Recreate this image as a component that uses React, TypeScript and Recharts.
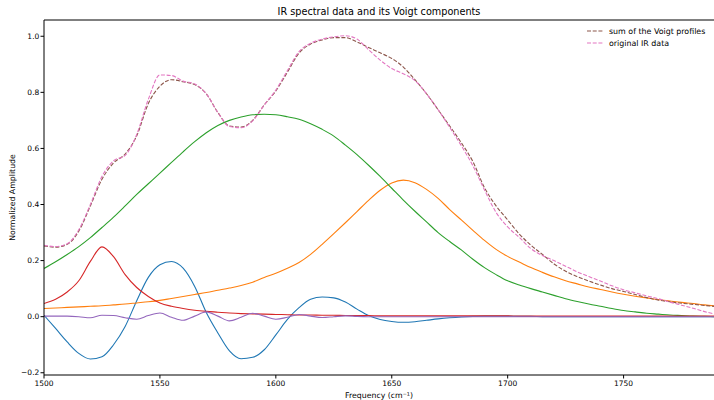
import { LineChart, Line, XAxis, YAxis, ReferenceLine } from 'recharts'

// wavenumber grid (cm^-1)
const freq = [
  1500, 1505, 1510, 1515, 1520, 1525, 1530, 1535, 1540, 1545, 1550, 1555, 1560, 1565, 1570,
  1575, 1580, 1585, 1590, 1595, 1600, 1605, 1610, 1615, 1620, 1625, 1630, 1635, 1640, 1645,
  1650, 1655, 1660, 1665, 1670, 1675, 1680, 1685, 1690, 1695, 1700, 1705, 1710, 1715, 1720,
  1725, 1730, 1735, 1740, 1745, 1750, 1755, 1760, 1765, 1770, 1775, 1780, 1785, 1790,
]

// Voigt components
const comp1 = [
  0.005, -0.042, -0.09, -0.131, -0.151, -0.143, -0.1, -0.035, 0.057, 0.14, 0.185, 0.197, 0.173, 0.108, 0.015,
  -0.058, -0.122, -0.15, -0.145, -0.118, -0.065, -0.01, 0.032, 0.062, 0.07, 0.067, 0.052, 0.027, 0.004, -0.01,
  -0.017, -0.02, -0.018, -0.013, -0.008, -0.004, -0.001, 0.001, 0.002, 0.002, 0.002, 0.001, 0.001, 0, 0,
  0, 0, 0, 0, 0, 0, 0, 0, 0, 0, 0, 0, 0, 0,
]
const comp2 = [
  0.029, 0.031, 0.033, 0.035, 0.037, 0.039, 0.042, 0.045, 0.049, 0.053, 0.058, 0.065, 0.072, 0.079, 0.086,
  0.094, 0.102, 0.111, 0.123, 0.14, 0.155, 0.173, 0.193, 0.222, 0.258, 0.296, 0.335, 0.375, 0.415, 0.451,
  0.477, 0.487, 0.478, 0.454, 0.422, 0.382, 0.345, 0.308, 0.272, 0.24, 0.215, 0.195, 0.175, 0.158, 0.142,
  0.128, 0.117, 0.106, 0.097, 0.088, 0.08, 0.073, 0.067, 0.061, 0.056, 0.051, 0.047, 0.042, 0.038,
]
const comp3 = [
  0.172, 0.196, 0.222, 0.25, 0.282, 0.318, 0.355, 0.395, 0.436, 0.474, 0.512, 0.55, 0.588, 0.624, 0.656,
  0.682, 0.7, 0.712, 0.72, 0.722, 0.72, 0.713, 0.704, 0.688, 0.668, 0.644, 0.612, 0.578, 0.54, 0.5,
  0.458, 0.416, 0.376, 0.338, 0.3, 0.268, 0.238, 0.205, 0.175, 0.15, 0.128, 0.113, 0.1, 0.088, 0.076,
  0.064, 0.054, 0.045, 0.037, 0.029, 0.022, 0.017, 0.012, 0.009, 0.006, 0.004, 0.002, 0.001, 0,
]
const comp4 = [
  0.047, 0.062, 0.088, 0.128, 0.197, 0.249, 0.214, 0.15, 0.104, 0.072, 0.049, 0.037, 0.029, 0.023, 0.019,
  0.016, 0.013, 0.011, 0.01, 0.009, 0.008, 0.007, 0.006, 0.006, 0.005, 0.005, 0.004, 0.004, 0.004, 0.003,
  0.003, 0.003, 0.003, 0.003, 0.003, 0.003, 0.003, 0.003, 0.003, 0.003, 0.003, 0.002, 0.002, 0.002, 0.002,
  0.002, 0.002, 0.002, 0.002, 0.002, 0.002, 0.002, 0.002, 0.002, 0.002, 0.002, 0.002, 0.002, 0.002,
]
const comp5 = [
  0.002, 0.002, 0.002, 0, -0.004, 0.005, 0.004, -0.004, -0.009, 0.004, 0.013, -0.002, -0.013, 0.002, 0.017,
  0.002, -0.015, -0.002, 0.012, 0.002, -0.009, -0.002, 0.008, 0.002, -0.003, 0, 0.003, 0.001, 0, 0,
  0, 0, 0, 0, 0, 0, 0, 0, 0, 0, 0, 0, 0, 0, 0,
  0, 0, 0, 0, 0, 0, 0, 0, 0, 0, 0, 0, 0, 0,
]

// sum of the fitted profiles and the measured spectrum
const voigtSum = [
  0.252, 0.248, 0.258, 0.305, 0.395, 0.49, 0.548, 0.58, 0.645, 0.76, 0.822, 0.845, 0.838, 0.828, 0.795,
  0.728, 0.68, 0.676, 0.7, 0.755, 0.805, 0.872, 0.94, 0.972, 0.987, 0.995, 0.995, 0.98, 0.96, 0.941,
  0.921, 0.89, 0.845, 0.795, 0.738, 0.68, 0.62, 0.553, 0.46, 0.395, 0.345, 0.295, 0.255, 0.222, 0.188,
  0.162, 0.143, 0.127, 0.113, 0.1, 0.09, 0.079, 0.068, 0.059, 0.053, 0.048, 0.044, 0.04, 0.036,
]
const irData = [
  0.255, 0.25, 0.26, 0.31, 0.4, 0.5, 0.556, 0.575, 0.65, 0.775, 0.862, 0.86, 0.84, 0.83, 0.795,
  0.728, 0.678, 0.674, 0.698, 0.755, 0.808, 0.878, 0.945, 0.975, 0.99, 0.998, 1.002, 0.99, 0.952, 0.915,
  0.885, 0.866, 0.842, 0.795, 0.738, 0.675, 0.61, 0.538, 0.452, 0.372, 0.32, 0.283, 0.243, 0.218, 0.2,
  0.18, 0.16, 0.143, 0.127, 0.11, 0.096, 0.085, 0.074, 0.064, 0.052, 0.041, 0.03, 0.018, 0.008,
]

const xTicks = [1500, 1550, 1600, 1650, 1700, 1750]
const yTicks = [-0.2, 0, 0.2, 0.4, 0.6, 0.8, 1.0]

const data = freq.map((f, i) => ({
  f,
  c1: comp1[i],
  c2: comp2[i],
  c3: comp3[i],
  c4: comp4[i],
  c5: comp5[i],
  sum: voigtSum[i],
  ir: irData[i],
}))

const font = '"DejaVu Sans", sans-serif'
const yMin = -0.208
const yMax = 1.058

const components = [
  { key: 'c1', color: '#1f77b4' },
  { key: 'c2', color: '#ff7f0e' },
  { key: 'c3', color: '#2ca02c' },
  { key: 'c4', color: '#d62728' },
  { key: 'c5', color: '#9467bd' },
]

const legendItems = [
  { label: 'sum of the Voigt profiles', color: '#8c564b' },
  { label: 'original IR data', color: '#e377c2' },
]

const fmtY = (v: number) => (v < 0 ? '\u2212' + Math.abs(v).toFixed(1) : v.toFixed(1))

export default function App() {
  return (
    <div style={{ position: 'absolute', left: 0, top: 0, width: 714, height: 400, background: '#fff' }}>
      <div
        style={{
          position: 'absolute',
          left: 44,
          width: 670,
          top: 6,
          textAlign: 'center',
          fontFamily: font,
          fontSize: 9.7,
          lineHeight: '12px',
          color: '#000',
        }}
      >
        IR spectral data and its Voigt components
      </div>
      <LineChart width={714} height={400} data={data} margin={{ top: 20, right: 0, left: 0, bottom: 0 }}>
        <XAxis
          dataKey="f"
          type="number"
          domain={[1500, 1789]}
          allowDataOverflow
          ticks={xTicks}
          height={25}
          tickSize={3.5}
          tickMargin={2.5}
          stroke="#000"
          tick={{ fontSize: 7.5, fill: '#000', fontFamily: font }}
          label={{
            value: 'Frequency (cm\u207b\u00b9)',
            position: 'insideBottom',
            offset: 2.5,
            style: { fontSize: 7.8, fill: '#000', fontFamily: font },
          }}
        />
        <YAxis
          type="number"
          domain={[yMin, yMax]}
          allowDataOverflow
          ticks={yTicks}
          width={44}
          tickSize={3.5}
          tickMargin={1.2}
          stroke="#000"
          tickFormatter={fmtY}
          tick={{ fontSize: 7.5, fill: '#000', fontFamily: font }}
          label={{
            value: 'Normalized Amplitude',
            angle: -90,
            position: 'insideLeft',
            offset: 12,
            style: { fontSize: 7.8, fill: '#000', fontFamily: font, textAnchor: 'middle' },
          }}
        />
        <ReferenceLine y={yMax} stroke="#000" strokeWidth={1} />
        {components.map(c => (
          <Line
            key={c.key}
            dataKey={c.key}
            type="monotone"
            stroke={c.color}
            strokeWidth={1.1}
            dot={false}
            activeDot={false}
            isAnimationActive={false}
          />
        ))}
        <Line
          dataKey="sum"
          type="monotone"
          stroke="#8c564b"
          strokeWidth={1.1}
          strokeDasharray="4 1.7"
          dot={false}
          activeDot={false}
          isAnimationActive={false}
        />
        <Line
          dataKey="ir"
          type="monotone"
          stroke="#e377c2"
          strokeWidth={1.1}
          strokeDasharray="4 1.7"
          dot={false}
          activeDot={false}
          isAnimationActive={false}
        />
      </LineChart>
      <div style={{ position: 'absolute', left: 587, top: 25, fontFamily: font, fontSize: 7.9, color: '#000' }}>
        {legendItems.map(it => (
          <div key={it.label} style={{ display: 'flex', alignItems: 'center', height: 12 }}>
            <svg width={17} height={4}>
              <line x1={0} y1={2} x2={17} y2={2} stroke={it.color} strokeWidth={1.1} strokeDasharray="4 1.7" />
            </svg>
            <span style={{ marginLeft: 5, whiteSpace: 'nowrap' }}>{it.label}</span>
          </div>
        ))}
      </div>
    </div>
  )
}
